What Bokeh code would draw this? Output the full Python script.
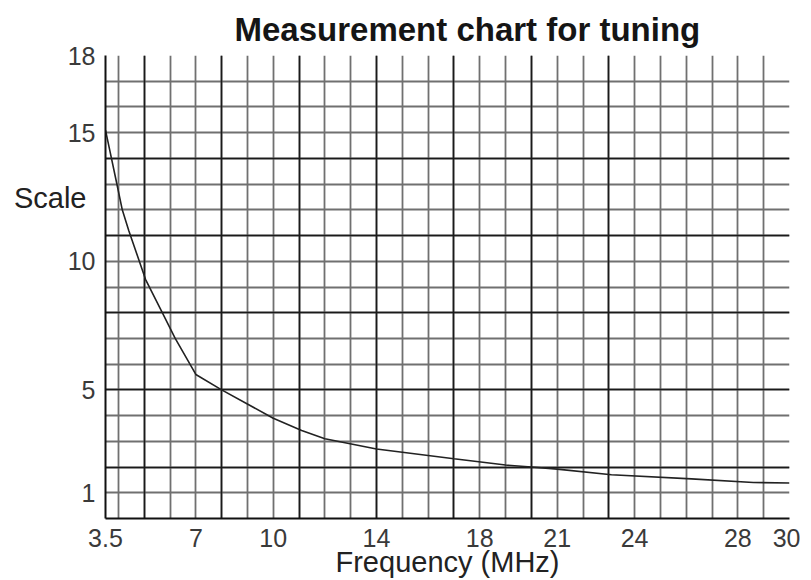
from bokeh.plotting import figure
from bokeh.models import Range1d, FixedTicker, Grid, LinearAxis
from bokeh.embed import file_html
from bokeh.resources import INLINE

# data
freq = [3.5, 3.9, 4.15, 4.4, 5.05, 5.7, 6.2, 7.0, 8.0, 10.0, 11.1, 12.0, 14.0, 17.0, 19.0, 20.0, 21.0, 23.1, 26.2, 28.6, 30.0]
scale = [15.1, 13.2, 12.0, 11.2, 9.3, 8.0, 7.0, 5.6, 5.0, 3.9, 3.42, 3.1, 2.7, 2.32, 2.08, 2.0, 1.92, 1.70, 1.54, 1.40, 1.38]

x_tick_vals = [3.5, 7, 10, 14, 18, 21, 24, 28, 30]
x_tick_labels = ["3.5", "7", "10", "14", "18", "21", "24", "28", "30"]
y_tick_vals = [1, 5, 10, 15, 18]
y_tick_labels = ["1", "5", "10", "15", "18"]

x_grid_minor = list(range(4, 31))
x_grid_major = [5, 8, 11, 14, 17, 20, 23]
y_grid_minor = list(range(1, 19))
y_grid_major = [2, 5, 8, 11, 14]

title_text = "Measurement chart for tuning"
x_label_text = "Frequency (MHz)"
y_label_text = "Scale"
y_label_pos = 12.47

FONT = "Liberation Sans"

p = figure(width=800, height=580, x_range=Range1d(3.5, 30), y_range=Range1d(0, 18),
           output_backend="svg", toolbar_location=None,
           min_border_left=105, min_border_right=11, min_border_top=55, min_border_bottom=61)

p.title.text = title_text
p.title.text_font = FONT
p.title.text_font_size = "33px"
p.title.text_font_style = "bold"
p.title.text_color = "#151515"
p.title.align = "left"
p.title.offset = 129
p.title.standoff = 15

p.outline_line_color = None
p.background_fill_color = "white"
p.border_fill_color = "white"

# grids
p.xgrid.ticker = FixedTicker(ticks=x_grid_minor)
p.ygrid.ticker = FixedTicker(ticks=y_grid_minor)
for g in (p.xgrid, p.ygrid):
    g.grid_line_color = "#707070"
    g.grid_line_width = 1.8
p.add_layout(Grid(dimension=0, ticker=FixedTicker(ticks=x_grid_major), grid_line_color="#1a1a1a", grid_line_width=1.6))
p.add_layout(Grid(dimension=1, ticker=FixedTicker(ticks=y_grid_major), grid_line_color="#1a1a1a", grid_line_width=1.6))

# axes
p.xaxis.ticker = FixedTicker(ticks=x_tick_vals)
p.xaxis.major_label_overrides = {v: l for v, l in zip(x_tick_vals, x_tick_labels)}
p.yaxis.ticker = FixedTicker(ticks=y_tick_vals)
p.yaxis.major_label_overrides = {v: l for v, l in zip(y_tick_vals, y_tick_labels)}
for ax in (p.xaxis, p.yaxis):
    ax.axis_line_color = "#111111"
    ax.axis_line_width = 2
    ax.major_tick_line_color = None
    ax.minor_tick_line_color = None
    ax.major_label_text_font = FONT
    ax.major_label_text_font_size = "25px"
    ax.major_label_text_color = "#3a3a3a"
p.xaxis.major_label_standoff = 4
p.yaxis.major_label_standoff = 4

p.xaxis.axis_label = x_label_text
p.xaxis.axis_label_text_font = FONT
p.xaxis.axis_label_text_font_size = "29px"
p.xaxis.axis_label_text_font_style = "normal"
p.xaxis.axis_label_text_color = "#222222"
p.xaxis.axis_label_standoff = -4

# horizontal "Scale" label as a one-tick axis on the left
scale_axis = LinearAxis(ticker=FixedTicker(ticks=[y_label_pos]),
                        major_label_overrides={y_label_pos: y_label_text},
                        axis_line_color=None, major_tick_line_color=None, minor_tick_line_color=None,
                        major_label_text_font=FONT, major_label_text_font_size="29px",
                        major_label_text_color="#222222", major_label_standoff=-28)
p.add_layout(scale_axis, "left")

p.line(freq, scale, line_color="#222222", line_width=1.6)

open("out.html", "w").write(file_html(p, INLINE))
